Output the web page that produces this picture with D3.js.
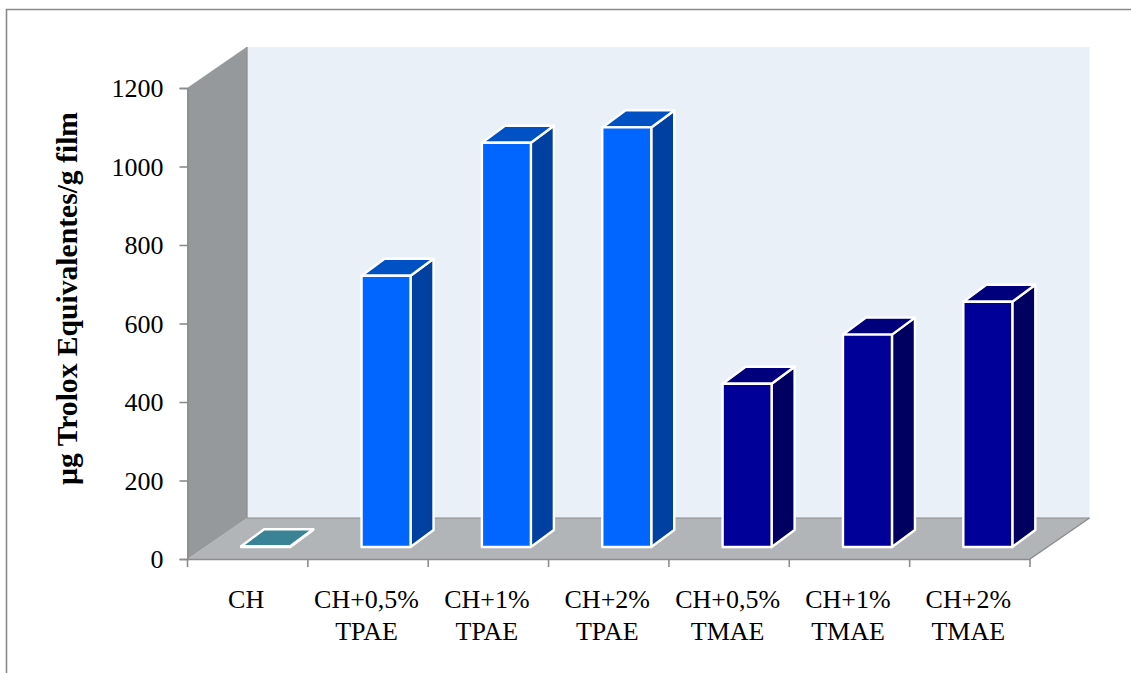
<!DOCTYPE html>
<html>
<head>
<meta charset="utf-8">
<script src="https://cdn.jsdelivr.net/npm/d3@7"></script>
<style>
html,body{margin:0;padding:0;background:#fff}
svg{display:block}
text{font-family:"Liberation Serif",serif;fill:#000}
</style>
</head>
<body>
<svg id="chart" width="1131" height="673"></svg>
<script>
const categories = ["CH", "CH+0,5%\nTPAE", "CH+1%\nTPAE", "CH+2%\nTPAE", "CH+0,5%\nTMAE", "CH+1%\nTMAE", "CH+2%\nTMAE"];
const values = [2, 691, 1030, 1069, 416, 541, 625];
const groups = ["control", "tpae", "tpae", "tpae", "tmae", "tmae", "tmae"];
const yTicks = [0, 200, 400, 600, 800, 1000, 1200];
const yTitle = "µg Trolox Equivalentes/g film";

// Shaded faces per extract group: front, side, top
const palette = {
  control: {front: "#3a8296", side: "#2c6472", top: "#3a8296"},
  tpae: {front: "#0066ff", side: "#0040a0", top: "#0052c4"},
  tmae: {front: "#000099", side: "#000060", top: "#00007c"}
};

const svg = d3.select("#chart");

// Oblique projection: the plot box is sheared back by (depthX, -depthY)
const depthX = 59.5, depthY = 41;
const x0 = 187.5, x1 = 1030, y0 = 559, y1 = 88;

const y = d3.scaleLinear().domain([0, 1200]).range([y0, y1]);
const x = d3.scaleBand().domain(categories).range([x0, x1]).paddingInner(0.593).paddingOuter(0.2965);

const edge = "#8c8c8c";
const poly = pts => pts.map(p => p.join(",")).join(" ");

// Page frame
svg.append("path").attr("d", "M1131,9.5H6.5V673").attr("fill", "none").attr("stroke", "#8a8a8a").attr("stroke-width", 1.6);

// Walls and floor
svg.append("polygon").attr("fill", "#eaf0f7")
  .attr("points", poly([[x0 + depthX, y1 - depthY], [x1 + depthX, y1 - depthY], [x1 + depthX, y0 - depthY], [x0 + depthX, y0 - depthY]]));
svg.append("polygon").attr("fill", "#95999b").attr("stroke", "#8f9395").attr("stroke-width", 0.5)
  .attr("points", poly([[x0, y1], [x0 + depthX, y1 - depthY], [x0 + depthX, y0 - depthY], [x0, y0]]));
svg.append("polygon").attr("fill", "#b2b5b8")
  .attr("points", poly([[x0, y0], [x1, y0], [x1 + depthX, y0 - depthY], [x0 + depthX, y0 - depthY]]));
svg.append("path").attr("fill", "none").attr("stroke", edge).attr("stroke-width", 1.5)
  .attr("d", d3.line()([[x1 + depthX, y0 - depthY], [x1, y0]]));
svg.append("path").attr("fill", "none").attr("stroke", edge).attr("stroke-width", 1)
  .attr("d", d3.line()([[x0 + depthX, y1 - depthY], [x0 + depthX, y0 - depthY], [x1 + depthX, y0 - depthY]]));

// Bars as three faces, set slightly back from the front edge of the floor
const insetX = 18, insetY = 12, barDepthX = 23, barDepthY = 17;
const barBase = y(0) - insetY;
const bars = svg.append("g").selectAll("g").data(categories).join("g")
  .attr("stroke", "#fff").attr("stroke-width", 2.4).attr("stroke-linejoin", "round");
bars.each(function (c, i) {
  const g = d3.select(this);
  const l = x(c) + insetX, r = l + x.bandwidth();
  const t = barBase - (y0 - y(values[i]));
  const col = palette[groups[i]];
  g.append("polygon").attr("fill", col.side)
    .attr("points", poly([[r, t], [r + barDepthX, t - barDepthY], [r + barDepthX, barBase - barDepthY], [r, barBase]]));
  g.append("polygon").attr("fill", col.top)
    .attr("points", poly([[l, t], [l + barDepthX, t - barDepthY], [r + barDepthX, t - barDepthY], [r, t]]));
  g.append("polygon").attr("fill", col.front)
    .attr("points", poly([[l, t], [r, t], [r, barBase], [l, barBase]]));
});

// Value axis
const yAxis = svg.append("g").attr("transform", `translate(${x0},0)`)
  .call(d3.axisLeft(y).tickValues(yTicks).tickSize(8).tickPadding(16).tickSizeOuter(8).tickFormat(d3.format("d")));
yAxis.selectAll("text").attr("font-size", 26).attr("dy", "0.33em");

// Category axis with boundary ticks between the groups
const xAxis = svg.append("g").attr("transform", `translate(0,${y0})`)
  .call(d3.axisBottom(x).tickSize(0).tickPadding(0).tickFormat(""));
xAxis.selectAll(".tick text").remove();
xAxis.selectAll("line.boundary").data(d3.range(categories.length + 1)).join("line")
  .attr("class", "boundary")
  .attr("x1", i => x0 + x.step() * i).attr("x2", i => x0 + x.step() * i)
  .attr("y1", 0).attr("y2", 8);

for (const axis of [yAxis, xAxis]) {
  axis.selectAll("path.domain").attr("stroke", edge).attr("stroke-width", 1.6);
  axis.selectAll("line").attr("stroke", edge).attr("stroke-width", 1.6);
}

// Category labels, one or two lines
svg.append("g").selectAll("text").data(categories).join("text")
  .attr("text-anchor", "middle").attr("font-size", 26)
  .each(function (c) {
    const cx = x(c) + x.bandwidth() / 2 - 1.5;
    d3.select(this).selectAll("tspan").data(c.split("\n")).join("tspan")
      .attr("x", cx).attr("y", (d, i) => 608 + i * 31.5).text(d => d);
  });

// Value axis title
svg.append("text").attr("transform", "translate(77,298.5) rotate(-90)")
  .attr("text-anchor", "middle").attr("font-size", 29.6).attr("font-weight", "bold").text(yTitle);
</script>
</body>
</html>
